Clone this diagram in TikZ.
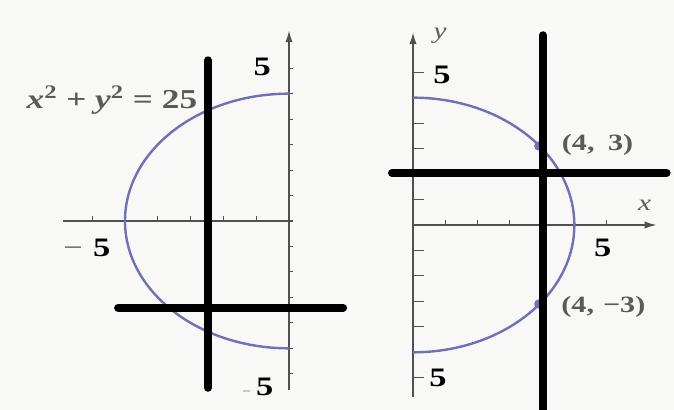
\documentclass[tikz,border=0pt]{standalone}
\usepackage{fontspec}
\setmainfont{Liberation Serif}
\usetikzlibrary{arrows.meta, positioning}
\definecolor{axisgray}{RGB}{80,80,80}
\definecolor{circblue}{RGB}{112,112,182}
\definecolor{textgray}{RGB}{90,90,90}
\definecolor{paper}{RGB}{248,248,246}

\begin{document}
\begin{tikzpicture}[
  x=0.75pt,
  y=0.75pt,
  axis/.style={
    draw=axisgray,
    line width=1.3pt
  },
  axisarrow/.style={
    axis,
    -{Latex[length=9pt, width=5.5pt]}
  },
  tickmark/.style={
    draw=axisgray,
    line width=0.8pt
  },
  curve/.style={
    draw=circblue,
    line width=1.8pt
  },
  bar/.style={
    line width=6pt,
    line cap=round
  },
  num/.style={
    inner sep=0pt,
    xscale=1.29,
    font=\fontsize{20}{20}\selectfont\bfseries
  },
  ptlab/.style={
    inner sep=0pt,
    xscale=1.29,
    text=textgray,
    font=\fontsize{17.5}{17.5}\selectfont\bfseries
  },
  eqlab/.style={
    inner sep=0pt,
    xscale=1.29,
    text=textgray,
    font=\fontsize{20.5}{20.5}\selectfont\bfseries
  },
  axlab/.style={
    inner sep=0pt,
    xscale=1.29,
    text=textgray,
    font=\fontsize{17}{17}\selectfont\itshape
  }
]

\fill[paper] (0,0) rectangle (674,410);
\useasboundingbox (0,0) rectangle (674,410);

% ============================================================
% Left: circle with the lines x = const and y = const
% ============================================================

\begin{scope}[shift={(289,189)}, x=24.6pt, y=19.1pt]

\draw[axis] (-6.89,0) -- (0,0);
\draw[axisarrow] (0,-6.63) -- (0,7.49);

\foreach \k in {1,...,6} \draw[tickmark] (-\k,0) -- ++(0,4pt);
\foreach \k in {-6,...,6} \draw[tickmark] (0,\k) -- ++(3pt,0);

\draw[curve] (0,5) arc[start angle=90, end angle=270, radius=5];

% Thick lines
\draw[bar] (-2.47,6.31) -- (-2.47,-6.55);
\draw[bar] (-5.21,-3.41) -- (1.65,-3.41);

\node[num] (fivetopL) at (-0.82,6.04) {5};
\node[num] (fiveleftL) at (-6.16,-1.06) {\textcolor{textgray}{\mdseries−}\hspace{0.3em}5};
\node[num] (fivebotL) at (-0.95,-6.51) {\textcolor{textgray}{\mdseries\small−}\hspace{0.15em}5};
\node[eqlab] (eqn) at (-5.4,4.75) {\textit{x}\textsuperscript{2} + \textit{y}\textsuperscript{2} = 25};

\end{scope}

% ============================================================
% Right: circle with the points (4, 3) and (4, -3)
% ============================================================

\begin{scope}[shift={(413,185)}, x=24.2pt, y=19.1pt]

\draw[axisarrow] (0,0) -- (7.55,0);
\draw[axisarrow] (0,-6.75) -- (0,7.57);

\foreach \k in {1,...,6} \draw[tickmark] (\k,0) -- ++(0,4pt);
\foreach \k in {-6,...,6} \draw[tickmark] (0,\k) -- ++(8pt,0);

\draw[curve] (0,-5) arc[start angle=-90, end angle=90, radius=5];

\fill[circblue] (3.9,3.1) circle[radius=3.5pt];
\fill[circblue] (3.9,-3.1) circle[radius=3.5pt];

% Thick lines
\draw[bar] (4.02,7.45) -- (4.02,-7.6);
\draw[bar] (-0.65,2.04) -- (7.86,2.04);

\node[axlab] (ylab) at (0.84,7.45) {y};
\node[axlab] (xlab) at (7.18,0.78) {x};
\node[num] (fiveup) at (0.9,5.88) {5};
\node[num] (fiveright) at (5.88,-0.9) {5};
\node[num] (fivedown) at (0.77,-6.0) {5};
\node[ptlab] (ptup) at (5.72,3.14) {(4,\hspace{0.45em}3)};
\node[ptlab] (ptdown) at (5.9,-3.2) {(4,\hspace{0.3em}−3)};

\end{scope}

\end{tikzpicture}
\end{document}
